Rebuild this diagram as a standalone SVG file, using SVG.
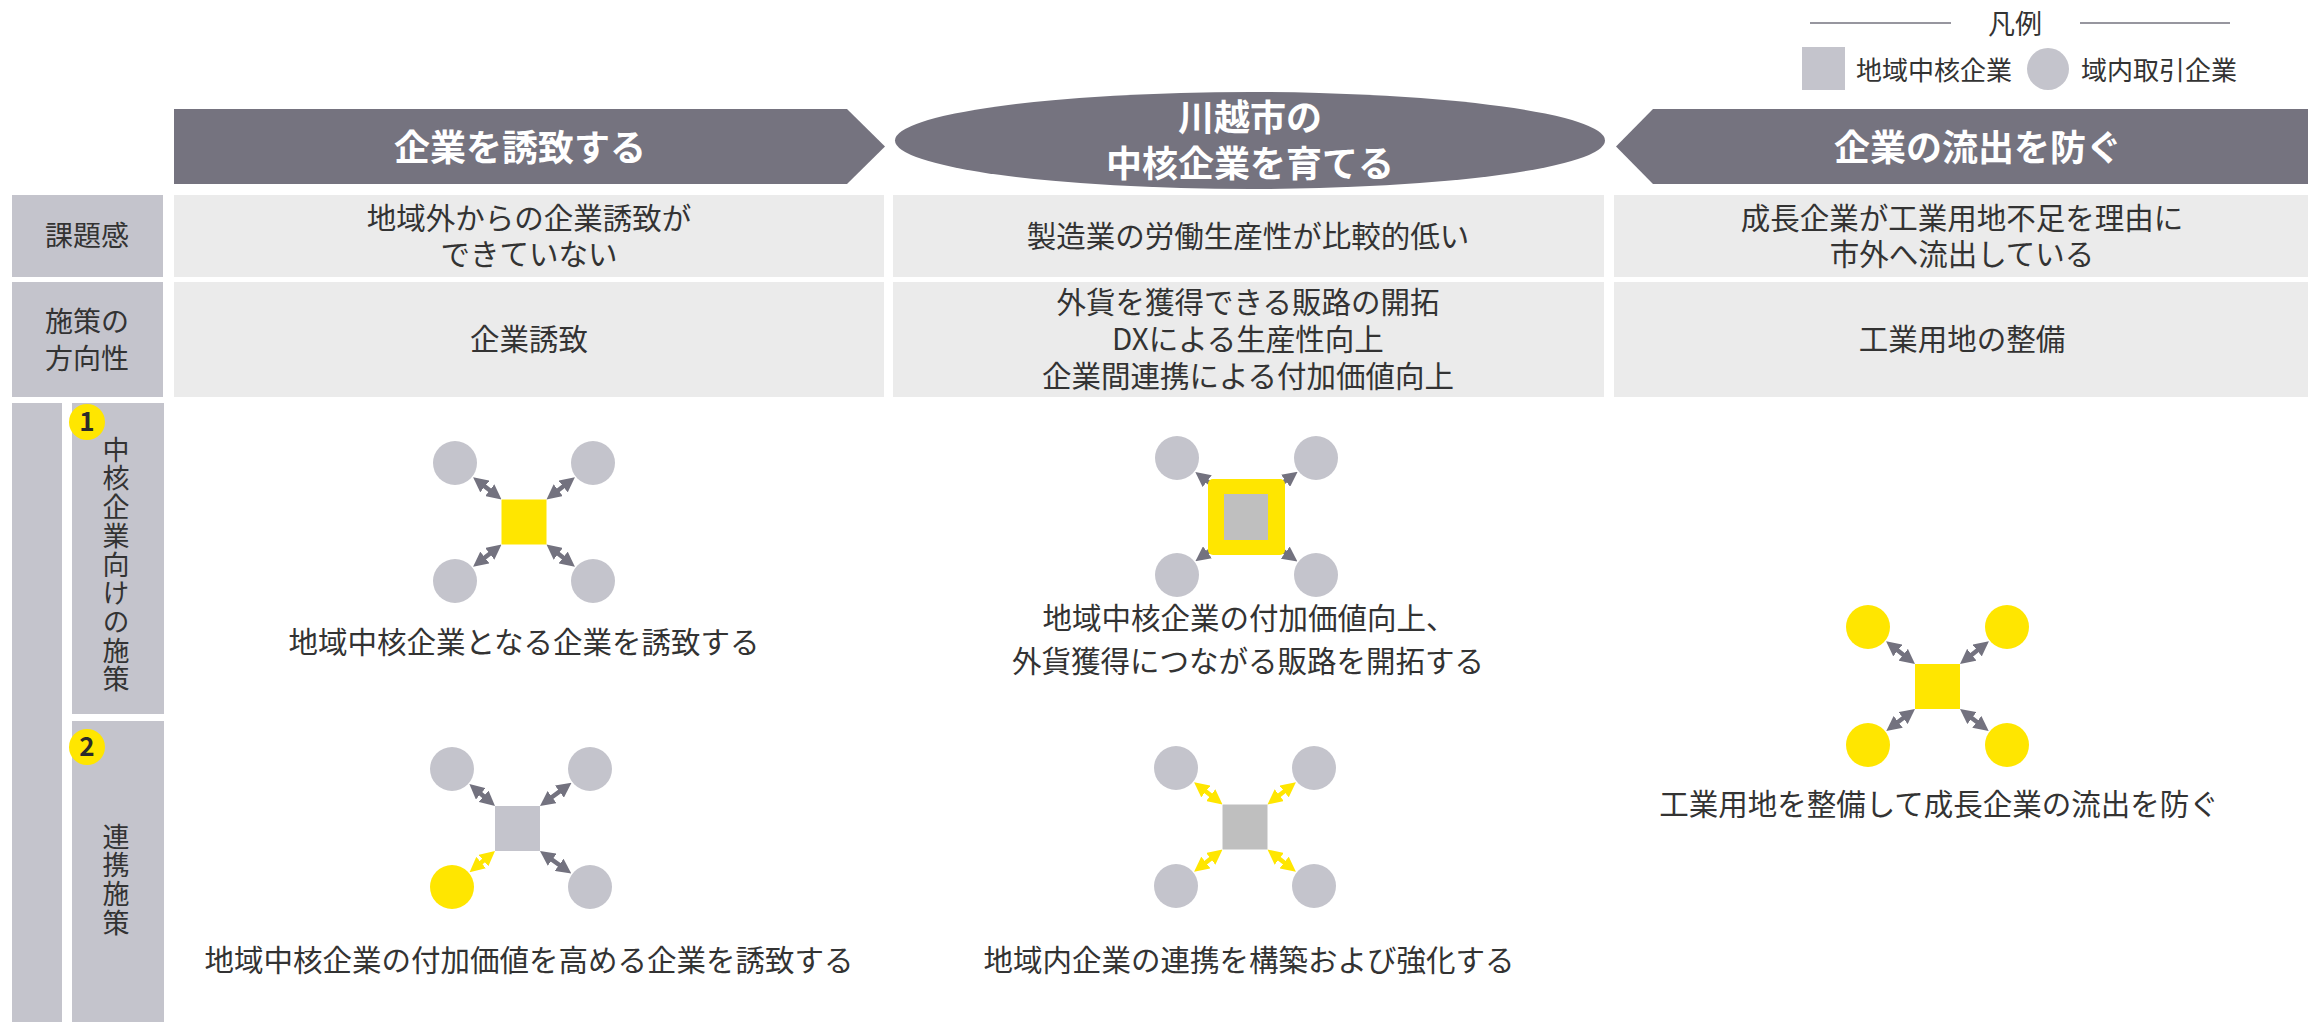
<svg xmlns="http://www.w3.org/2000/svg" width="2308" height="1022" viewBox="0 0 2308 1022">
<style>
text{font-family:"Noto Sans CJK JP","Noto Sans",sans-serif;fill:#333333;text-anchor:middle}
.hdr{fill:#75737F}
.lbl{fill:#C4C4CC}
.cell{fill:#EBEBEB}
.t{font-size:29.5px}
.tl{font-size:28px}
.th{font-size:36px;font-weight:bold;fill:#FFFFFF}
.vt{font-size:27px;writing-mode:vertical-rl;text-anchor:start;letter-spacing:1.7px}
.bd{font-size:26px;font-weight:bold;fill:#2B2B2B}
.cg{fill:#C4C4CC}
.cy{fill:#FFE600}
.sq{fill:#BFBFBF}
.arr{fill:none;stroke:#73727F;stroke-width:4.5;stroke-dasharray:0 18 64 18;marker-start:url(#ag);marker-end:url(#ag)}
.arry{fill:none;stroke:#FFE600;stroke-width:4.5;stroke-dasharray:0 18 64 18;marker-start:url(#ay);marker-end:url(#ay)}
</style>
<defs>
<marker id="ag" viewBox="0 0 15 15" refX="15" refY="7.5" markerWidth="15" markerHeight="15" markerUnits="userSpaceOnUse" orient="auto-start-reverse"><path d="M0,0 L15,7.5 L0,15 z" fill="#73727F"/></marker>
<marker id="ay" viewBox="0 0 15 15" refX="15" refY="7.5" markerWidth="15" markerHeight="15" markerUnits="userSpaceOnUse" orient="auto-start-reverse"><path d="M0,0 L15,7.5 L0,15 z" fill="#FFE600"/></marker>
</defs>

<g id="legend">
<line x1="1810" y1="23" x2="1951" y2="23" stroke="#75737F" stroke-width="1.5"/>
<line x1="2080" y1="23" x2="2230" y2="23" stroke="#75737F" stroke-width="1.5"/>
<text x="2015" y="34" style="font-size:27px">凡例</text>
<rect x="1802" y="47" width="43" height="43" class="cg"/>
<text x="1856" y="80" style="font-size:26px;text-anchor:start">地域中核企業</text>
<circle cx="2048" cy="69" r="21" class="cg"/>
<text x="2081" y="80" style="font-size:26px;text-anchor:start">域内取引企業</text>
</g>

<g id="header-attract">
<polygon class="hdr" points="174,109 847,109 885,146.5 847,184 174,184"/>
<text class="th" x="520" y="161">企業を誘致する</text>
</g>
<g id="header-grow">
<ellipse class="hdr" cx="1250" cy="140.5" rx="355" ry="48.5"/>
<text class="th" x="1250" y="131">川越市の</text>
<text class="th" x="1250" y="177">中核企業を育てる</text>
</g>
<g id="header-prevent">
<polygon class="hdr" points="1616,146.5 1653,109 2308,109 2308,184 1653,184"/>
<text class="th" x="1978" y="161">企業の流出を防ぐ</text>
</g>

<g id="row-issue">
<rect class="lbl" x="12" y="195" width="151" height="82"/>
<text class="tl" x="87" y="246">課題感</text>
<rect class="cell" x="174" y="195" width="710" height="82"/>
<text class="t" x="529" y="229">地域外からの企業誘致が</text>
<text class="t" x="529" y="265">できていない</text>
<rect class="cell" x="893" y="195" width="711" height="82"/>
<text class="t" x="1248" y="247">製造業の労働生産性が比較的低い</text>
<rect class="cell" x="1614" y="195" width="694" height="82"/>
<text class="t" x="1962" y="229">成長企業が工業用地不足を理由に</text>
<text class="t" x="1962" y="265">市外へ流出している</text>
</g>

<g id="row-direction">
<rect class="lbl" x="12" y="282" width="151" height="115"/>
<text class="tl" x="87" y="332">施策の</text>
<text class="tl" x="87" y="369">方向性</text>
<rect class="cell" x="174" y="282" width="710" height="115"/>
<text class="t" x="529" y="350">企業誘致</text>
<rect class="cell" x="893" y="282" width="711" height="115"/>
<text class="t" x="1248" y="313">外貨を獲得できる販路の開拓</text>
<text class="t" x="1248" y="350">DXによる生産性向上</text>
<text class="t" x="1248" y="387">企業間連携による付加価値向上</text>
<rect class="cell" x="1614" y="282" width="694" height="115"/>
<text class="t" x="1962" y="350">工業用地の整備</text>
</g>

<g id="row-measures">
<rect class="lbl" x="12" y="403" width="50" height="619"/>
<rect class="lbl" x="72" y="403" width="92" height="311"/>
<rect class="lbl" x="72" y="721" width="92" height="301"/>
<g id="badge-1"><circle class="cy" cx="87" cy="422" r="18"/><text class="bd" x="87" y="431">1</text></g>
<g id="badge-2"><circle class="cy" cx="87" cy="747" r="18"/><text class="bd" x="87" y="756">2</text></g>
<text class="vt" x="116" y="436">中核企業向けの施策</text>
<text class="vt" x="116" y="823">連携施策</text>
</g>

<g id="connectors">
<path class="arr" pathLength="100" d="M473.1,477.2 L501.5,499.5"/>
<path class="arr" pathLength="100" d="M574.9,477.2 L546.5,499.5"/>
<path class="arr" pathLength="100" d="M473.1,566.8 L501.5,544.5"/>
<path class="arr" pathLength="100" d="M574.9,566.8 L546.5,544.5"/>

<path class="arr" pathLength="100" d="M1195.3,472 L1224,494"/>
<path class="arr" pathLength="100" d="M1297.6,471.8 L1268,494"/>
<path class="arr" pathLength="100" d="M1195.4,561.3 L1224,540"/>
<path class="arr" pathLength="100" d="M1297.4,561.5 L1268,540"/>

<path class="arr" pathLength="100" d="M469.4,784 L495,806"/>
<path class="arr" pathLength="100" d="M571.5,782.7 L540,806"/>
<path class="arry" pathLength="100" d="M469.6,872.2 L495,851"/>
<path class="arr" pathLength="100" d="M571.3,873.6 L540,851"/>

<path class="arry" pathLength="100" d="M1194.1,782.2 L1222.5,804.5"/>
<path class="arry" pathLength="100" d="M1295.9,782.2 L1267.5,804.5"/>
<path class="arry" pathLength="100" d="M1194.1,871.8 L1222.5,849.5"/>
<path class="arry" pathLength="100" d="M1295.9,871.8 L1267.5,849.5"/>

<path class="arr" pathLength="100" d="M1886.1,641.2 L1915,664"/>
<path class="arr" pathLength="100" d="M1988.9,641.2 L1960,664"/>
<path class="arr" pathLength="100" d="M1886.3,731 L1915,709"/>
<path class="arr" pathLength="100" d="M1988.7,731 L1960,709"/>
</g>

<g id="diagram-attract-core">
<circle class="cg" cx="455" cy="463" r="22"/>
<circle class="cg" cx="593" cy="463" r="22"/>
<circle class="cg" cx="455" cy="581" r="22"/>
<circle class="cg" cx="593" cy="581" r="22"/>
<rect class="cy" x="501.5" y="499.5" width="45" height="45"/>
<text class="t" x="524" y="653">地域中核企業となる企業を誘致する</text>
</g>

<g id="diagram-grow-core">
<circle class="cg" cx="1177" cy="458" r="22"/>
<circle class="cg" cx="1316" cy="458" r="22"/>
<circle class="cg" cx="1177" cy="575" r="22"/>
<circle class="cg" cx="1316" cy="575" r="22"/>
<rect class="cy" x="1208" y="479" width="77" height="76" rx="5"/>
<rect class="sq" x="1224" y="494" width="44" height="46"/>
<text class="t" x="1249" y="629">地域中核企業の付加価値向上、</text>
<text class="t" x="1248" y="672">外貨獲得につながる販路を開拓する</text>
</g>

<g id="diagram-attract-link">
<circle class="cg" cx="452" cy="769" r="22"/>
<circle class="cg" cx="590" cy="769" r="22"/>
<circle class="cy" cx="452" cy="887" r="22"/>
<circle class="cg" cx="590" cy="887" r="22"/>
<rect class="cg" x="495" y="806" width="45" height="45"/>
<text class="t" x="529" y="971">地域中核企業の付加価値を高める企業を誘致する</text>
</g>

<g id="diagram-grow-link">
<circle class="cg" cx="1176" cy="768" r="22"/>
<circle class="cg" cx="1314" cy="768" r="22"/>
<circle class="cg" cx="1176" cy="886" r="22"/>
<circle class="cg" cx="1314" cy="886" r="22"/>
<rect class="sq" x="1222.5" y="804.5" width="45" height="45"/>
<text class="t" x="1249" y="971">地域内企業の連携を構築および強化する</text>
</g>

<g id="diagram-prevent">
<circle class="cy" cx="1868" cy="627" r="22"/>
<circle class="cy" cx="2007" cy="627" r="22"/>
<circle class="cy" cx="1868" cy="745" r="22"/>
<circle class="cy" cx="2007" cy="745" r="22"/>
<rect class="cy" x="1915" y="664" width="45" height="45"/>
<text class="t" x="1939" y="815">工業用地を整備して成長企業の流出を防ぐ</text>
</g>
</svg>
